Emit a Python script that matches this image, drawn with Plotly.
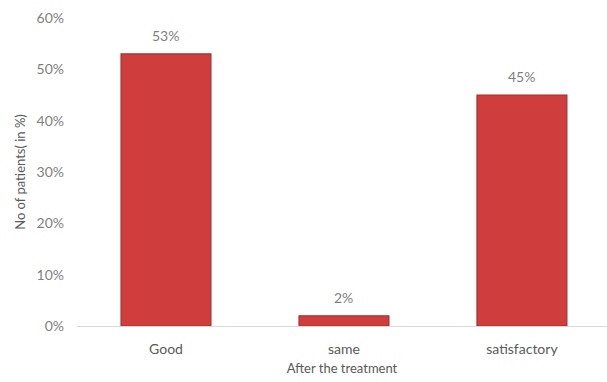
import plotly.graph_objects as go

categories = ["Good", "same", "satisfactory"]
values = [53, 2, 45]
labels = ["53%", "2%", "45%"]
y_ticks = [0, 10, 20, 30, 40, 50, 60]
y_tick_text = ["0%", "10%", "20%", "30%", "40%", "50%", "60%"]

FONT = "Lato, 'Open Sans', sans-serif"
GRAY = "#7f7f7f"

fig = go.Figure()
fig.add_trace(go.Bar(
    x=categories, y=values,
    marker=dict(color="#cf3d3d", line=dict(color="#a33030", width=1.2)),
    width=0.505,
))
for c, v, t in zip(categories, values, labels):
    fig.add_annotation(x=c, y=v, text=t, showarrow=False, yanchor="bottom",
                       yshift=8, font=dict(family=FONT, size=14, color=GRAY))
fig.update_layout(
    width=607, height=382,
    margin=dict(l=77, r=0, t=18, b=56),
    paper_bgcolor="white", plot_bgcolor="white",
    showlegend=False,
    font=dict(family=FONT, color=GRAY, size=13),
)
fig.update_xaxes(
    range=[-0.5, 2.478],
    showline=True, linecolor="#d9d9d9", linewidth=1.2,
    showgrid=False, ticks="",
    tickfont=dict(family=FONT, size=14, color="#595959"),
    ticklabelstandoff=10,
    title=dict(text="After the treatment", font=dict(family=FONT, size=13, color="#595959"), standoff=7),
)
fig.update_yaxes(
    range=[0, 60],
    tickvals=y_ticks, ticktext=y_tick_text,
    showgrid=False, showline=False, zeroline=False, ticks="",
    tickfont=dict(family=FONT, size=14, color=GRAY),
    ticklabelstandoff=12,
    title=dict(text="No of patients( in %)", font=dict(family=FONT, size=13, color="#595959"), standoff=7),
)
fig.write_html("out.html")
